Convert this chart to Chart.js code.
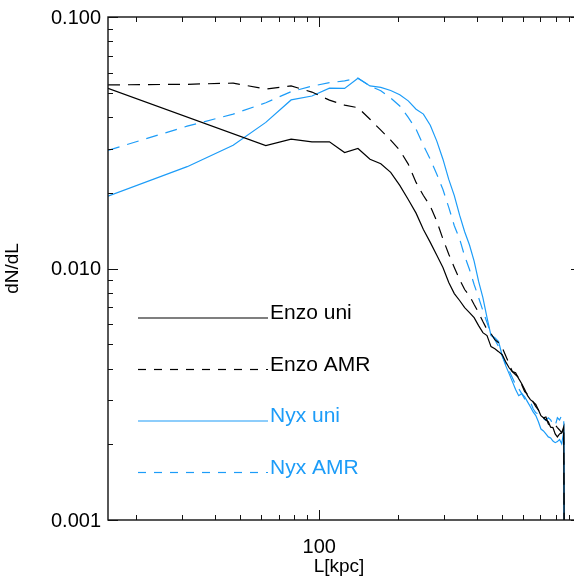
<!DOCTYPE html>
<html>
<head>
<meta charset="utf-8">
<script src="https://cdn.jsdelivr.net/npm/chart.js@4/dist/chart.umd.min.js"></script>
<style>
  html, body { margin: 0; padding: 0; background: #fff; overflow: hidden; }
  #wrap { width: 574px; height: 587px; overflow: hidden; }
</style>
</head>
<body>
<div id="wrap"><canvas id="chart" width="590" height="587"></canvas></div>
<script>
// bin centres, kpc
const lengths = [15.6, 31.3, 46.9, 62.5, 78.1, 93.8, 109.4, 125.0, 140.6, 156.3,
  171.9, 187.5, 203.1, 218.8, 234.4, 250.0, 265.6, 281.3, 296.9, 312.5,
  328.1, 343.8, 359.4, 375.0, 390.6, 406.3, 421.9, 437.5, 453.1, 468.8,
  484.4, 500.0, 515.6, 531.3, 546.9, 562.5, 578.1, 593.8, 609.4, 625.0,
  640.6, 656.3, 671.9, 687.5, 703.1, 718.8, 734.4, 750.0, 765.6, 781.3,
  796.9, 812.5, 828.1, 843.8, 859.4, 875.0]

// last bin is empty, it falls off the bottom of the axis
const enzoUni = [0.0520, null, null, 0.0308, 0.0327, 0.0319, 0.0319, 0.0289, 0.0300, 0.0272,
  0.0261, 0.0241, 0.0214, 0.0188, 0.0166, 0.0143, 0.0127, 0.0113, 0.0101, 0.00880,
  0.00795, 0.00746, 0.00699, 0.00668, 0.00638, 0.00593, 0.00556, 0.00541, 0.00489, 0.00480,
  0.00467, 0.00454, 0.00426, 0.00403, 0.00389, 0.00385, 0.00365, 0.00348, 0.00330, 0.00312,
  0.00301, 0.00295, 0.00282, 0.00274, 0.00260, 0.00255, 0.00250, 0.00246, 0.00234, 0.00233,
  0.00220, 0.00214, 0.00220, 0.00222, 0.00235, 0.00001]

const enzoAmr = [0.0537, 0.0540, 0.0546, 0.0517, 0.0532, 0.0503, 0.0467, 0.0446, 0.0436, 0.0392,
  0.0355, 0.0324, 0.0295, 0.0260, 0.0220, 0.0195, 0.0177, 0.0154, 0.0131, 0.0114,
  0.0101, 0.00904, 0.00825, 0.00780, 0.00719, 0.00668, 0.00615, 0.00572, 0.00551, 0.00521,
  0.00507, 0.00485, 0.00450, 0.00418, 0.00389, 0.00378, 0.00368, 0.00345, 0.00324, 0.00316,
  0.00306, 0.00295, 0.00288, 0.00274, 0.00264, 0.00255, 0.00257, 0.00241, 0.00237, 0.00235,
  0.00239, 0.00233, 0.00228, 0.00222, 0.00233, 0.00001]

const nyxUni = [0.0194, 0.0254, 0.0309, 0.0381, 0.0468, 0.0485, 0.0521, 0.0520, 0.0571, 0.0532,
  0.0525, 0.0510, 0.0491, 0.0464, 0.0430, 0.0411, 0.0371, 0.0321, 0.0272, 0.0226,
  0.0195, 0.0163, 0.0140, 0.0124, 0.0107, 0.00888, 0.00766, 0.00638, 0.00541, 0.00531,
  0.00512, 0.00450, 0.00411, 0.00382, 0.00355, 0.00330, 0.00312, 0.00318, 0.00309, 0.00295,
  0.00282, 0.00269, 0.00260, 0.00246, 0.00230, 0.00226, 0.00220, 0.00214, 0.00212, 0.00206,
  0.00203, 0.00205, 0.00209, 0.00201, 0.00224, 0.00001]

const nyxAmr = [0.0295, 0.0368, 0.0411, 0.0456, 0.0505, 0.0531, 0.0548, 0.0557, 0.0571, 0.0532,
  0.0509, 0.0476, 0.0443, 0.0399, 0.0358, 0.0309, 0.0272, 0.0237, 0.0206, 0.0175,
  0.0148, 0.0131, 0.0112, 0.00991, 0.00864, 0.00766, 0.00680, 0.00609, 0.00551, 0.00521,
  0.00489, 0.00450, 0.00418, 0.00392, 0.00368, 0.00345, 0.00333, 0.00318, 0.00303, 0.00301,
  0.00295, 0.00277, 0.00267, 0.00264, 0.00255, 0.00253, 0.00249, 0.00255, 0.00250, 0.00241,
  0.00237, 0.00255, 0.00250, 0.00260, 0.00255, 0.00001]

const xMajorTicks = [100]
const xMinorTicks = [20, 30, 40, 50, 60, 70, 80, 90, 200, 300, 400, 500, 600, 700, 800, 900]
const xTickLabels = ['100']
const yMajorTicks = [0.001, 0.01, 0.1]
const yMinorTicks = [0.002, 0.003, 0.004, 0.005, 0.006, 0.007, 0.008, 0.009,
  0.02, 0.03, 0.04, 0.05, 0.06, 0.07, 0.08, 0.09]
const yTickLabels = ['0.001', '0.010', '0.100']

const BLUE = '#1c9cf8'
const FONT = '"Liberation Sans", Arial, Helvetica, sans-serif'

const series = [
  {label: 'Enzo uni', data: enzoUni, color: '#000', dash: []},
  {label: 'Enzo AMR', data: enzoAmr, color: '#000', dash: [12, 8]},
  {label: 'Nyx uni', data: nyxUni, color: BLUE, dash: []},
  {label: 'Nyx AMR', data: nyxAmr, color: BLUE, dash: [12, 8]}
]

// IDL-like box: ticks pointing inward on all four sides, labels, legend
const axesPlugin = {
  id: 'idlAxes',
  afterDraw(chart) {
    const {ctx, chartArea: a} = chart
    const xs = chart.scales.x, ys = chart.scales.y
    ctx.save()
    ctx.strokeStyle = '#111'
    ctx.lineWidth = 1.4
    ctx.strokeRect(a.left, a.top, a.right - a.left, a.bottom - a.top)

    ctx.lineWidth = 1
    const tick = (x1, y1, x2, y2) => {
      ctx.beginPath(); ctx.moveTo(x1, y1); ctx.lineTo(x2, y2); ctx.stroke()
    }
    xMajorTicks.concat(xMinorTicks).forEach(v => {
      const px = Math.round(xs.getPixelForValue(v)) + 0.5
      const len = xMajorTicks.includes(v) ? 10 : 5
      tick(px, a.bottom, px, a.bottom - len)
      tick(px, a.top, px, a.top + len)
    })
    yMajorTicks.concat(yMinorTicks).forEach(v => {
      const py = Math.round(ys.getPixelForValue(v)) + 0.5
      const len = yMajorTicks.includes(v) ? 10 : 5
      tick(a.left, py, a.left + len, py)
      tick(a.right, py, a.right - len, py)
    })

    ctx.fillStyle = '#000'
    ctx.font = '20px ' + FONT
    ctx.textAlign = 'right'
    ctx.textBaseline = 'middle'
    yMajorTicks.forEach((v, i) => {
      ctx.fillText(yTickLabels[i], a.left - 7, ys.getPixelForValue(v) + 1)
    })
    ctx.textAlign = 'center'
    xMajorTicks.forEach((v, i) => {
      ctx.fillText(xTickLabels[i], xs.getPixelForValue(v), a.bottom + 27)
    })

    ctx.font = '19px ' + FONT
    ctx.fillText('L[kpc]', 339, a.bottom + 47)
    ctx.save()
    ctx.translate(13, (a.top + a.bottom) / 2)
    ctx.rotate(-Math.PI / 2)
    ctx.fillText('dN/dL', 0, 0)
    ctx.restore()

    // legend
    ctx.font = '21px ' + FONT
    ctx.textAlign = 'left'
    ctx.textBaseline = 'alphabetic'
    series.forEach((s, i) => {
      const ly = a.top + 301 + i * 51.5
      ctx.strokeStyle = s.color
      ctx.lineWidth = 1.2
      ctx.setLineDash(s.dash.length ? [8, 8] : [])
      tick(a.left + 30, ly, a.left + 160, ly)
      ctx.setLineDash([])
      ctx.fillStyle = s.color
      ctx.fillText(s.label, a.left + 162, ly + 1)
    })
    ctx.restore()
  }
}

const chartConfig = {
  type: 'line',
  data: {
    datasets: series.map(s => ({
      label: s.label,
      data: s.data.map((v, i) => ({x: lengths[i], y: v})),
      borderColor: s.color,
      borderWidth: 1.2,
      borderDash: s.dash,
      pointRadius: 0,
      spanGaps: true,
      fill: false,
      tension: 0
    }))
  },
  options: {
    responsive: false,
    animation: false,
    layout: {padding: {left: 108, top: 17, right: 9, bottom: 67}},
    scales: {
      x: {type: 'logarithmic', min: 15.6, max: 1000, display: false},
      y: {type: 'logarithmic', min: 0.001, max: 0.1, display: false}
    },
    plugins: {legend: {display: false}, tooltip: {enabled: false}}
  },
  plugins: [axesPlugin]
}

new Chart(document.getElementById('chart'), chartConfig)
</script>
</body>
</html>
